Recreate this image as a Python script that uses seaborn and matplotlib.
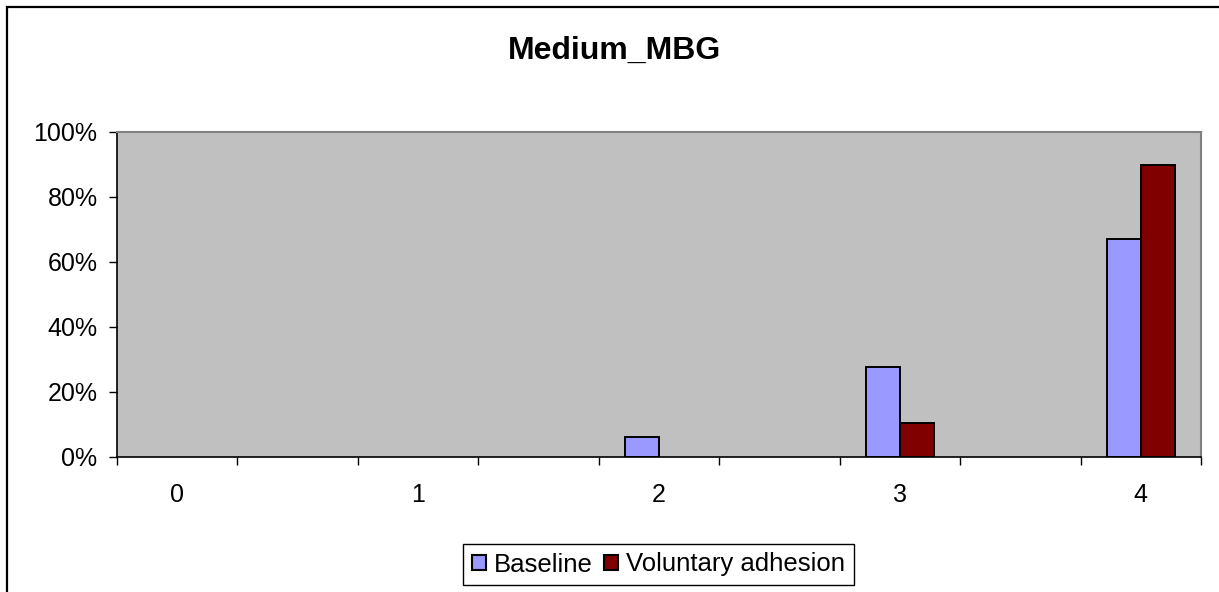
import numpy as np
import pandas as pd
import matplotlib
matplotlib.use("Agg")
import matplotlib.pyplot as plt
import seaborn as sns
from matplotlib.patches import Patch, Rectangle

# ---- data ----
title = "Medium_MBG"
categories = ["0", "0.5", "1", "1.5", "2", "2.5", "3", "3.5", "4"]
tick_labels = ["0", "1", "2", "3", "4"]
series = ["Baseline", "Voluntary adhesion"]
baseline = [np.nan, np.nan, np.nan, np.nan, 6.2, np.nan, 27.6, np.nan, 67.0]
voluntary = [np.nan, np.nan, np.nan, np.nan, np.nan, np.nan, 10.3, np.nan, 89.8]
colors = ["#9999FF", "#800000"]

df = pd.DataFrame({
    "score": categories * 2,
    "pct": baseline + voluntary,
    "series": [series[0]] * len(categories) + [series[1]] * len(categories),
}).dropna()

sns.set_theme(style="white")
plt.rcParams["font.family"] = ["Liberation Sans", "DejaVu Sans"]
plt.rcParams["text.color"] = "black"

W, H = 1219, 592
fig = plt.figure(figsize=(W / 100, H / 100), dpi=100)
fig.patch.set_facecolor("white")

# outer chart border (left/top visible)
fig.add_artist(Rectangle((7 / W, -0.2), 1.5, 1.2 - 7 / H, transform=fig.transFigure,
                         fill=False, edgecolor="black", linewidth=1.6))

left, right, top, bottom = 117, 1201, 131.5, 457
ax = fig.add_axes([left / W, 1 - bottom / H, (right - left) / W, (bottom - top) / H])
ax.set_facecolor("#C0C0C0")

sns.barplot(data=df, x="score", y="pct", hue="series", order=categories,
            hue_order=series, palette=colors, width=0.567, gap=0,
            edgecolor="black", linewidth=1.4, saturation=1, legend=False, ax=ax)

ax.set_xlim(-0.5, len(categories) - 0.5)
ax.set_ylim(0, 100)
ax.set_xlabel("")
ax.set_ylabel("")

ax.set_xticks(np.arange(0, len(categories), 2))
ax.set_xticklabels(tick_labels)
ax.set_xticks(np.arange(-0.5, len(categories), 1), minor=True)
ax.tick_params(axis="x", which="major", length=0, pad=19, labelsize=18,
               colors="black", labelcolor="black")
ax.tick_params(axis="x", which="minor", length=6, width=1, direction="out", color="black", bottom=True)

yt = np.arange(0, 101, 20)
ax.set_yticks(yt)
ax.set_yticklabels([f"{v}%" for v in yt])
ax.tick_params(axis="y", which="major", length=6, width=1, direction="out", color="black",
               pad=8, labelsize=18, labelcolor="black", left=True)

for s in ["top", "right"]:
    ax.spines[s].set_color("#808080")
    ax.spines[s].set_linewidth(1.5)
for s in ["left", "bottom"]:
    ax.spines[s].set_color("black")
    ax.spines[s].set_linewidth(1.2)
ax.grid(False)

fig.text(614 / W, 1 - 59 / H, title, ha="center", va="baseline",
         fontsize=23, fontweight="bold", color="black")

handles = [Patch(facecolor=c, edgecolor="black", linewidth=1.5) for c in colors]
leg = fig.legend(handles, series, loc="center", bbox_to_anchor=(658.5 / W, 1 - 564.5 / H),
                 ncol=2, fontsize=18.5, frameon=True, fancybox=False, framealpha=1,
                 edgecolor="black", handlelength=0.55, handleheight=0.55,
                 handletextpad=0.3, columnspacing=0.45, borderpad=0.35, borderaxespad=0)
leg.get_frame().set_linewidth(1.0)
for t in leg.get_texts():
    t.set_color("black")

fig.savefig("out.png", dpi=100)
